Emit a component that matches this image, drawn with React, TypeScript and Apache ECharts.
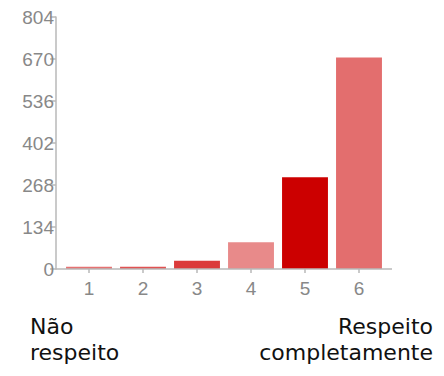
import React, { useEffect, useRef } from "react";
import * as echarts from "echarts";

const categories = ["1", "2", "3", "4", "5", "6"];
const values = [7, 7, 26, 85, 293, 675];
const barColors = ["#e57272", "#e05252", "#db3a3a", "#e88a8a", "#cc0000", "#e36e6e"];
const yMax = 804;
const yInterval = 134;
const leftLabelLines = ["Não", "respeito"];
const rightLabelLines = ["Respeito", "completamente"];

export default function App() {
  const ref = useRef<HTMLDivElement>(null);
  useEffect(() => {
    if (!ref.current) return;
    const chart = echarts.init(ref.current, null, { renderer: "svg" });
    const font = "22px 'DejaVu Sans', sans-serif";
    const textEls: any[] = [];
    leftLabelLines.forEach((t, i) => {
      textEls.push({
        type: "text",
        left: 30,
        top: 314 + i * 26,
        style: { text: t, font, fill: "#111111", lineHeight: 25 },
      });
    });
    rightLabelLines.forEach((t, i) => {
      textEls.push({
        type: "text",
        right: 11,
        top: 314 + i * 26,
        style: { text: t, font, fill: "#111111", lineHeight: 25 },
      });
    });
    chart.setOption({
      animation: false,
      backgroundColor: "#ffffff",
      grid: { left: 62, right: 58, top: 17, bottom: 107, containLabel: false },
      xAxis: {
        type: "category",
        data: categories,
        axisLine: { show: false },
        axisTick: { show: true, alignWithLabel: true, length: 4, lineStyle: { color: "#b8b8b8", width: 1.5 } },
        axisLabel: { color: "#888888", fontFamily: "Liberation Sans, Arial", fontSize: 19, margin: 10 },
      },
      yAxis: {
        type: "value",
        min: 0,
        max: yMax,
        interval: yInterval,
        offset: 6,
        splitLine: { show: false },
        axisLine: { show: true, lineStyle: { color: "#b8b8b8", width: 1.5 } },
        axisTick: { show: true, length: 6, lineStyle: { color: "#b8b8b8", width: 1.5 } },
        axisLabel: { color: "#888888", fontFamily: "Liberation Sans, Arial", fontSize: 19, margin: 2 },
      },
      series: [
        {
          type: "bar",
          barCategoryGap: "15%",
          data: values.map((v, i) => ({ value: v, itemStyle: { color: barColors[i] } })),
        },
      ],
      graphic: [
        {
          type: "line",
          shape: { x1: 56, y1: 269, x2: 392, y2: 269 },
          style: { stroke: "#b8b8b8", lineWidth: 1.5 },
          z: 10,
        },
        ...textEls,
      ],
    });
    return () => chart.dispose();
  }, []);
  return (
    <div
      ref={ref}
      style={{ position: "absolute", left: 0, top: 0, width: 444, height: 376, background: "#fff" }}
    />
  );
}
